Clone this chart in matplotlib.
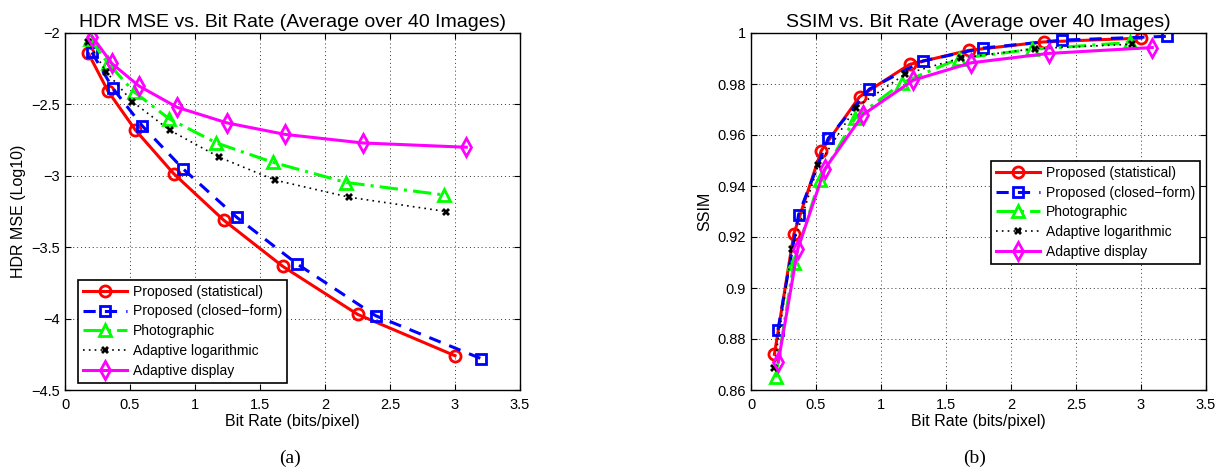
import matplotlib
matplotlib.use("Agg")
import matplotlib.pyplot as plt
from matplotlib.ticker import FuncFormatter

plt.rcParams['font.family'] = ['Liberation Sans', 'DejaVu Sans']

labels = ['Proposed (statistical)', 'Proposed (closed\u2212form)', 'Photographic',
          'Adaptive logarithmic', 'Adaptive display']

# bit rates (bits/pixel) per method
rate_stat = [0.18, 0.33, 0.54, 0.835, 1.22, 1.675, 2.25, 3.0]
rate_closed = [0.207, 0.366, 0.594, 0.91, 1.32, 1.785, 2.39, 3.2]
rate_photo = [0.19, 0.33, 0.528, 0.80, 1.165, 1.60, 2.165, 2.915]
rate_alog = [0.176, 0.315, 0.518, 0.805, 1.187, 1.615, 2.187, 2.93]
rate_adisp = [0.21, 0.36, 0.567, 0.862, 1.248, 1.692, 2.29, 3.087]

# HDR MSE (log10)
mse_stat = [-2.143, -2.406, -2.678, -2.984, -3.31, -3.634, -3.97, -4.26]
mse_closed = [-2.136, -2.385, -2.65, -2.953, -3.29, -3.617, -3.98, -4.28]
mse_photo = [-2.04, -2.21, -2.41, -2.60, -2.77, -2.906, -3.047, -3.134]
mse_alog = [-2.06, -2.27, -2.48, -2.68, -2.87, -3.03, -3.15, -3.25]
mse_adisp = [-2.026, -2.213, -2.37, -2.52, -2.63, -2.71, -2.77, -2.80]

# SSIM
ssim_stat = [0.874, 0.9213, 0.9538, 0.975, 0.9877, 0.9932, 0.9965, 0.998]
ssim_closed = [0.8836, 0.9288, 0.9587, 0.978, 0.989, 0.9941, 0.9972, 0.9987]
ssim_photo = [0.865, 0.910, 0.9425, 0.9666, 0.9805, 0.990, 0.9936, 0.9963]
ssim_alog = [0.8685, 0.9154, 0.9483, 0.9707, 0.9839, 0.9902, 0.9939, 0.9956]
ssim_adisp = [0.8711, 0.9154, 0.9466, 0.968, 0.9815, 0.9883, 0.992, 0.9943]

rates = [rate_stat, rate_closed, rate_photo, rate_alog, rate_adisp]
mses = [mse_stat, mse_closed, mse_photo, mse_alog, mse_adisp]
ssims = [ssim_stat, ssim_closed, ssim_photo, ssim_alog, ssim_adisp]

styles = [
    dict(color='#ff0000', ls='-', marker='o', ms=8, mfc='none', mew=2, lw=2.2),
    dict(color='#0000ff', ls=(0, (4, 3)), marker='s', ms=7, mfc='none', mew=2, lw=2.2),
    dict(color='#00ff00', ls=(0, (6, 2, 1, 2)), marker='^', ms=9, mfc='none', mew=2, lw=2.2),
    dict(color='black', ls=(0, (1, 2.5)), marker='X', ms=6, mew=0, lw=1.2),
    dict(color='#ff00ff', ls='-', marker='d', ms=9, mfc='none', mew=2, lw=2.2),
]

fig = plt.figure(figsize=(12.15, 4.71), dpi=100)
ax1 = fig.add_axes([65 / 1215, 1 - 390 / 471, 455 / 1215, 357 / 471])
ax2 = fig.add_axes([751 / 1215, 1 - 390 / 471, 455 / 1215, 357 / 471])

for i in range(5):
    ax1.plot(rates[i], mses[i], label=labels[i], **styles[i])
    ax2.plot(rates[i], ssims[i], label=labels[i], **styles[i])

fmt = FuncFormatter(lambda v, p: ('%g' % round(v, 4)).replace('-', '\u2212'))
for ax in (ax1, ax2):
    ax.set_xlim(0, 3.5)
    ax.set_xticks([0, 0.5, 1, 1.5, 2, 2.5, 3, 3.5])
    ax.xaxis.set_major_formatter(fmt)
    ax.yaxis.set_major_formatter(fmt)
    ax.grid(True, ls=(0, (1, 3)), color='black', lw=0.7, alpha=0.8)
    ax.tick_params(direction='in', top=True, right=True, labelsize=10.5, length=4)
    ax.tick_params(axis='x', pad=6)
    for s in ax.spines.values():
        s.set_linewidth(1.0)
    ax.set_xlabel('Bit Rate (bits/pixel)', fontsize=11.5, labelpad=1)

ax1.set_ylim(-4.5, -2)
ax1.set_yticks([-4.5, -4, -3.5, -3, -2.5, -2])
ax1.set_ylabel('HDR MSE (Log10)', fontsize=11.5)
ax1.set_title('HDR MSE vs. Bit Rate (Average over 40 Images)', fontsize=14, pad=4)

ax2.set_ylim(0.86, 1.0)
ax2.set_yticks([0.86, 0.88, 0.9, 0.92, 0.94, 0.96, 0.98, 1.0])
ax2.set_ylabel('SSIM', fontsize=11.5)
ax2.set_title('SSIM vs. Bit Rate (Average over 40 Images)', fontsize=14, pad=4)

leg_kw = dict(fontsize=10, fancybox=False, edgecolor='black', framealpha=1,
              handlelength=3.2, labelspacing=0.42, borderpad=0.35, handletextpad=0.4,
              borderaxespad=0)
l1 = ax1.legend(loc='lower left', bbox_to_anchor=(0.028, 0.02), **leg_kw)
l2 = ax2.legend(loc='upper left', bbox_to_anchor=(0.527, 0.642), **leg_kw)
for l in (l1, l2):
    l.get_frame().set_linewidth(1.2)

fig.text(290 / 1215, 1 - 458 / 471, '(a)', ha='center', va='center', fontsize=14,
         family='Liberation Serif')
fig.text(975 / 1215, 1 - 458 / 471, '(b)', ha='center', va='center', fontsize=14,
         family='Liberation Serif')

fig.savefig('out.png', dpi=100)
